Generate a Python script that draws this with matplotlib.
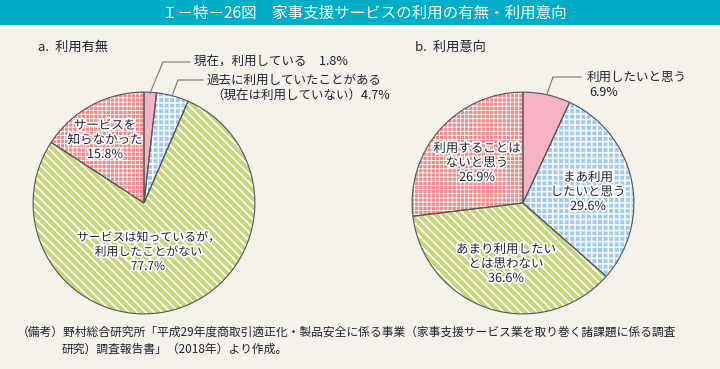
import matplotlib
matplotlib.use("Agg")
import matplotlib.pyplot as plt
from matplotlib.patches import Rectangle
import matplotlib.patheffects as pe

plt.rcParams['font.family'] = ['Noto Sans CJK JP', 'DejaVu Sans']

# data
usage_labels = ["現在，利用している", "過去に利用していたことがある（現在は利用していない）",
                "サービスは知っているが，利用したことがない", "サービスを知らなかった"]
usage_values = [1.8, 4.7, 77.7, 15.8]
intent_labels = ["利用したいと思う", "まあ利用したいと思う",
                 "あまり利用したいとは思わない", "利用することはないと思う"]
intent_values = [6.9, 29.6, 36.6, 26.9]

title = "Ｉ－特－26図　家事支援サービスの利用の有無・利用意向"
note1 = "（備考）野村総合研究所「平成29年度商取引適正化・製品安全に係る事業（家事支援サービス業を取り巻く諸課題に係る調査"
note2 = "研究）調査報告書」（2018年）より作成。"

faces = ["#f6b3c5", "#9fcaf0", "#c6d67a", "#ee8a8c"]
hatches = [None, "+++", "\\\\\\\\", "++++"]
hatch_lw = [0.5, 1.1, 1.3, 0.6]

W, H = 720, 369
bg = "#f5f2ea"
fig = plt.figure(figsize=(W / 100, H / 100), dpi=100, facecolor=bg)

# title bar
fig.patches.append(Rectangle((0, 1 - 25 / H), 1, 25 / H, transform=fig.transFigure,
                             facecolor="#00adc6", edgecolor="none"))
fig.patches.append(Rectangle((0, 1 - 29 / H), 1, 4 / H, transform=fig.transFigure,
                             facecolor="white", edgecolor="none"))
fig.text(364 / W, 1 - 13 / H, title, color="white", fontsize=11.2,
         ha="center", va="center")


def px(x, y):
    return x / W, 1 - y / H


def draw_pie(cx, cy, r, values):
    ax = fig.add_axes([(cx - r) / W, 1 - (cy + r) / H, 2 * r / W, 2 * r / H])
    wedges, _ = ax.pie(values, colors=faces, startangle=90, counterclock=False,
                       radius=1, wedgeprops=dict(edgecolor="white", linewidth=0))
    for w, h, lw in zip(wedges, hatches, hatch_lw):
        if h:
            w.set_hatch(h)
            try:
                w.set_hatch_linewidth(lw)
            except AttributeError:
                pass
    ax.pie(values, startangle=90, counterclock=False, radius=1,
           wedgeprops=dict(fill=False, edgecolor="#555555", linewidth=0.8))
    ax.set_xlim(-1.01, 1.01)
    ax.set_ylim(-1.01, 1.01)
    ax.axis("off")
    return ax


draw_pie(144, 203, 112, usage_values)
draw_pie(523, 203, 112, intent_values)

halo = [pe.withStroke(linewidth=2.5, foreground="white")]
tc = "#222233"


def label(x, y, s, size=9):
    fig.text(*px(x, y), s, fontsize=size, color=tc, ha="center", va="center",
             linespacing=1.15, path_effects=halo)


# panel headings
fig.text(*px(38, 47), "a.  利用有無", fontsize=9.5, color=tc, va="center")
fig.text(*px(415, 47), "b.  利用意向", fontsize=9.5, color=tc, va="center")

# inside labels
label(105, 140, "サービスを\n知らなかった\n{}%".format(usage_values[3]))
label(148, 252, "サービスは知っているが，\n利用したことがない\n{}%".format(usage_values[2]), 8.6)
label(477, 163, "利用することは\nないと思う\n{}%".format(intent_values[3]))
label(588, 192, "まあ利用\nしたいと思う\n{}%".format(intent_values[1]))
label(506, 264, "あまり利用したい\nとは思わない\n{}%".format(intent_values[2]))

# leader lines and outside labels
lc = "#777777"
fig.add_artist(plt.Line2D([150 / W, 163 / W, 190 / W], [1 - 93 / H, 1 - 62 / H, 1 - 62 / H],
                          color=lc, linewidth=0.8))
fig.text(*px(194, 62), "現在，利用している　{}%".format(usage_values[0]), fontsize=9,
         color=tc, va="center")
fig.add_artist(plt.Line2D([172 / W, 178 / W, 203 / W], [1 - 96 / H, 1 - 80 / H, 1 - 80 / H],
                          color=lc, linewidth=0.8))
fig.text(*px(207, 80), "過去に利用していたことがある", fontsize=9, color=tc, va="center")
fig.text(*px(211, 96), "（現在は利用していない）{}%".format(usage_values[1]), fontsize=9,
         color=tc, va="center")
fig.add_artist(plt.Line2D([547 / W, 553 / W, 581 / W], [1 - 94 / H, 1 - 77 / H, 1 - 77 / H],
                          color=lc, linewidth=0.8))
fig.text(*px(587, 77), "利用したいと思う", fontsize=9, color=tc, va="center")
fig.text(*px(589, 93), "{}%".format(intent_values[0]), fontsize=9, color=tc, va="center")

# source note
fig.text(*px(17, 332), note1, fontsize=8.5, color=tc, va="center")
fig.text(*px(62, 349), note2, fontsize=8.5, color=tc, va="center")

fig.savefig("out.png", dpi=100, facecolor=bg)
